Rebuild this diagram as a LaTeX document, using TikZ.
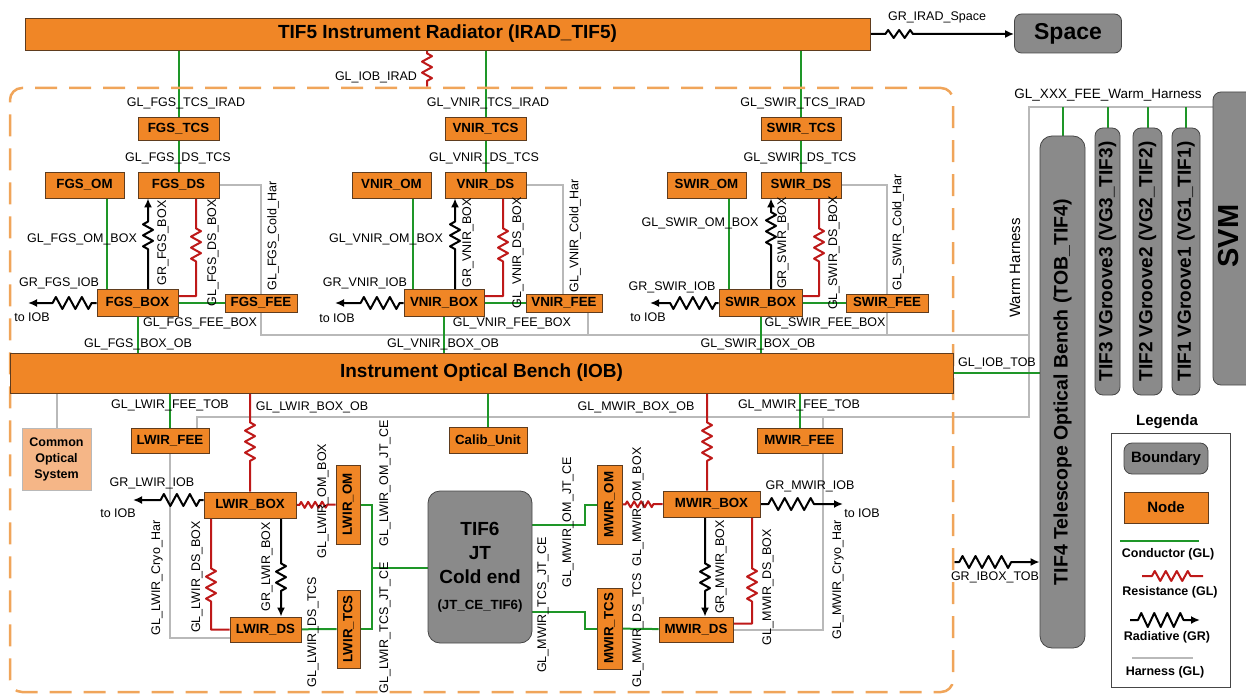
\documentclass[tikz,border=0pt]{standalone}
\usepackage{fontspec}
\setmainfont{Liberation Sans}
\usetikzlibrary{arrows.meta,decorations.pathmorphing,backgrounds}
\definecolor{nodeorange}{RGB}{240,134,38}
\definecolor{nodeborder}{RGB}{95,60,30}
\definecolor{bndgray}{RGB}{138,138,138}
\definecolor{bndborder}{RGB}{70,70,70}
\definecolor{condgreen}{RGB}{30,150,40}
\definecolor{resred}{RGB}{190,25,25}
\definecolor{harngray}{RGB}{185,185,185}
\definecolor{iboxorange}{RGB}{240,165,90}
\definecolor{cosfill}{RGB}{245,182,135}
\tikzset{
  sz/.style 2 args={minimum width=#1pt, minimum height=#2pt},
  nd/.style={draw=nodeborder, line width=0.8pt, fill=nodeorange, inner sep=0pt, font=\bfseries\fontsize{13.3}{15}\selectfont},
  bnd/.style={draw=bndborder, line width=0.8pt, fill=bndgray, rounded corners=8pt, inner sep=0pt, font=\bfseries\fontsize{19}{22}\selectfont},
  ibox/.style={draw=iboxorange, line width=2.5pt, dash pattern=on 22pt off 12pt, rounded corners=12pt, inner sep=0pt},
  lbl/.style={inner sep=0pt, font=\fontsize{12.5}{14}\selectfont},
  lgl/.style={inner sep=0pt, font=\bfseries\fontsize{12.5}{14}\selectfont},
  cond/.style={draw=condgreen, line width=2pt},
  harn/.style={draw=harngray, line width=2pt},
  resl/.style={draw=resred, line width=2pt, line join=round, decoration={zigzag, amplitude=5pt, segment length=11pt}},
  res/.style 2 args={resl, decorate, decoration={pre length=#1, post length=#2}},
  rad/.style 2 args={draw=black, line width=2pt, line join=round, -{Latex[length=9pt,width=8pt]}, decorate, decoration={zigzag, amplitude=6pt, segment length=13pt, pre length=#1, post length=#2}}
}
\begin{document}
\begin{tikzpicture}[x=1pt, y=-1pt]
\useasboundingbox (0,0) rectangle (1246,695);
\node[ibox, sz={943}{604}] (IBOX) at (481.5,390) {};

\node[nd, sz={845}{32}, font=\bfseries\fontsize{19}{22}\selectfont] (IRAD) at (447.5,34) {TIF5 Instrument Radiator (IRAD\_TIF5)};
\node[bnd, sz={107}{39}, rounded corners=7pt, font=\bfseries\fontsize{23}{26}\selectfont] (SPACE) at (1068,33.5) {Space};
\node[nd, sz={943}{40}, font=\bfseries\fontsize{19}{22}\selectfont] (IOB) at (481.5,373) {Instrument Optical Bench (IOB)};

\node[nd, sz={81}{23}] (FGStcs) at (178.5,128.5) {FGS\_TCS};
\node[nd, sz={81}{26}] (FGSds) at (178.5,185) {FGS\_DS};
\node[nd, sz={79}{26}] (FGSom) at (84.5,185) {FGS\_OM};
\node[nd, sz={81}{27}] (FGSbox) at (137.5,303) {FGS\_BOX};
\node[nd, sz={72}{18}] (FGSfee) at (261,303) {FGS\_FEE};

\node[nd, sz={81}{23}] (VNIRtcs) at (485.5,128.5) {VNIR\_TCS};
\node[nd, sz={81}{26}] (VNIRds) at (485.5,185) {VNIR\_DS};
\node[nd, sz={79}{26}] (VNIRom) at (391.5,185) {VNIR\_OM};
\node[nd, sz={80}{27}] (VNIRbox) at (444,303) {VNIR\_BOX};
\node[nd, sz={76}{18}] (VNIRfee) at (564,303) {VNIR\_FEE};

\node[nd, sz={80}{23}] (SWIRtcs) at (801,128.5) {SWIR\_TCS};
\node[nd, sz={80}{26}] (SWIRds) at (801,185) {SWIR\_DS};
\node[nd, sz={79}{26}] (SWIRom) at (706.5,185) {SWIR\_OM};
\node[nd, sz={83}{27}] (SWIRbox) at (760.5,303) {SWIR\_BOX};
\node[nd, sz={82}{18}] (SWIRfee) at (887,303) {SWIR\_FEE};

\node[nd, sz={78}{25}] (LWIRfee) at (170,440.5) {LWIR\_FEE};
\node[nd, sz={78}{26}] (CALIB) at (488,440) {Calib\_Unit};
\node[nd, sz={85}{25}] (MWIRfee) at (799.5,440.5) {MWIR\_FEE};
\node[draw=harngray, line width=0.8pt, fill=cosfill, sz={69}{62}, inner sep=0pt, align=center, font=\bfseries\fontsize{12.5}{16}\selectfont] (COS) at (56.5,459) {Common\\Optical\\System};

\node[nd, sz={92}{26}] (LWIRbox) at (250,505) {LWIR\_BOX};
\node[nd, sz={24}{79}] (LWIRom) at (348,504.5) {\rotatebox{90}{LWIR\_OM}};
\node[nd, sz={23}{78}] (LWIRtcs) at (348.5,629) {\rotatebox{90}{LWIR\_TCS}};
\node[nd, sz={71}{25}] (LWIRds) at (265.5,629.5) {LWIR\_DS};
\node[bnd, sz={104}{152}, rounded corners=12pt, align=center, font=\bfseries\fontsize{19}{24}\selectfont] (JT) at (480,567) {TIF6\\JT\\Cold end\\[2pt]{\fontsize{13.3}{15}\selectfont(JT\_CE\_TIF6)}};
\node[nd, sz={25}{79}] (MWIRom) at (609.5,504.5) {\rotatebox{90}{MWIR\_OM}};
\node[nd, sz={25}{81}] (MWIRtcs) at (609.5,628.5) {\rotatebox{90}{MWIR\_TCS}};
\node[nd, sz={97}{26}] (MWIRbox) at (711.5,504) {MWIR\_BOX};
\node[nd, sz={74}{25}] (MWIRds) at (696,629.5) {MWIR\_DS};

\node[bnd, sz={45}{512}, rounded corners=12pt, font=\bfseries\fontsize{19.5}{22}\selectfont] (TOB) at (1062.5,392) {\rotatebox{90}{TIF4 Telescope Optical Bench (TOB\_TIF4)}};
\node[bnd, sz={25}{267}] (VG3) at (1107.5,261.5) {\rotatebox{90}{TIF3 VGroove3 (VG3\_TIF3)}};
\node[bnd, sz={29}{267}] (VG2) at (1147.5,261.5) {\rotatebox{90}{TIF2 VGroove2 (VG2\_TIF2)}};
\node[bnd, sz={28}{267}] (VG1) at (1186,261.5) {\rotatebox{90}{TIF1 VGroove1 (VG1\_TIF1)}};
\begin{scope}
\clip (0,0) rectangle (1246,695);
\node[bnd, sz={50}{293}] (SVM) at (1238,238.5) {};
\end{scope}
\node[inner sep=0pt, font=\bfseries\fontsize{29}{30}\selectfont] (tSVM) at (1228,236) {\rotatebox{90}{SVM}};

\coordinate (whT) at (1029,107);
\coordinate (whA) at (1029,335);
\coordinate (whB) at (1029,417);
\coordinate (FGSiob) at (28,303);
\coordinate (VNIRiob) at (335,303);
\coordinate (SWIRiob) at (650,303);
\coordinate (LWIRiob) at (133,500);
\coordinate (MWIRiob) at (843,504);
\coordinate (LWIRjt) at (372,568);

\begin{scope}[on background layer]
\draw[cond] (IRAD.south -| FGStcs.north) -- (FGStcs.north);
\draw[cond] (IRAD.south -| VNIRtcs.north) -- (VNIRtcs.north);
\draw[cond] (IRAD.south -| SWIRtcs.north) -- (SWIRtcs.north);
\draw[res={3pt}{3pt}] (IRAD.south -| 427,0) -- (IBOX.north -| 427,0);
\draw[rad={15pt}{98pt}, decoration={amplitude=4pt, segment length=11pt}] (IRAD.east) -- (IRAD.east -| SPACE.west);

\draw[cond] (FGStcs) -- (FGSds);
\draw[cond] (FGSom.south -| 107,0) -- (FGSbox.north -| 107,0);
\draw[rad={40pt}{20pt}, decoration={amplitude=5pt, segment length=11pt}] (FGSbox.north -| 148,0) -- (FGSds.south -| 148,0);
\draw[resl] (FGSds.south -| 196,0) -- ++(0,30) decorate {-- ++(0,37)} |- ([yshift=7pt]FGSbox.east);
\draw[cond] (FGSbox) -- (FGSfee);
\draw[rad={5pt}{22pt}] (FGSbox.west) -- (FGSiob);
\draw[harn] (FGSds.east) -| (FGSfee);
\draw[harn] (FGSfee) |- (whA);
\draw[cond] (FGSbox) -- (FGSbox |- IOB.north);

\draw[cond] (VNIRtcs) -- (VNIRds);
\draw[cond] (VNIRom.south -| 413,0) -- (VNIRbox.north -| 413,0);
\draw[rad={40pt}{20pt}, decoration={amplitude=5pt, segment length=11pt}] (VNIRbox.north -| 455,0) -- (VNIRds.south -| 455,0);
\draw[resl] (VNIRds.south -| 503,0) -- ++(0,30) decorate {-- ++(0,37)} |- ([yshift=7pt]VNIRbox.east);
\draw[cond] (VNIRbox) -- (VNIRfee);
\draw[rad={4pt}{25pt}] (VNIRbox.west) -- (VNIRiob);
\draw[harn] (VNIRds.east) -| (VNIRfee.north -| 563,0);
\draw[harn] (VNIRfee.south -| 588,0) -- (whA -| 588,0);
\draw[cond] (VNIRbox) -- (VNIRbox |- IOB.north);

\draw[cond] (SWIRtcs) -- (SWIRds);
\draw[cond] (SWIRom.south -| 729,0) -- (SWIRbox.north -| 729,0);
\draw[rad={44pt}{12pt}, decoration={amplitude=5pt, segment length=11pt}] (SWIRbox.north -| 771,0) -- (SWIRds.south -| 771,0);
\draw[resl] (SWIRds.south -| 819,0) -- ++(0,30) decorate {-- ++(0,38)} |- ([yshift=7pt]SWIRbox.east);
\draw[cond] (SWIRbox) -- (SWIRfee);
\draw[rad={3pt}{20pt}] (SWIRbox.west) -- (SWIRiob);
\draw[harn] (SWIRds.east) -| (SWIRfee) |- (whA);
\draw[cond] (SWIRbox) -- (SWIRbox |- IOB.north);

\draw[harn] (SVM.west |- whT) -- (whT) -- (whB) -| (LWIRfee.north -| 197,0);
\draw[cond] (TOB.north) -- (TOB.north |- whT);
\draw[cond] (VG3.north) -- (VG3.north |- whT);
\draw[cond] (VG2.north) -- (VG2.north |- whT);
\draw[cond] (VG1.north) -- (VG1.north |- whT);
\draw[cond] (IOB.east) -- (IOB.east -| TOB.west);
\draw[rad={5pt}{28pt}] (IBOX.east |- 0,562) -- (TOB.west |- 0,562);

\draw[harn] (IOB.south -| COS.north) -- (COS.north);
\draw[cond] (IOB.south -| LWIRfee.north) -- (LWIRfee.north);
\draw[cond] (IOB.south -| CALIB.north) -- (CALIB.north);
\draw[cond] (IOB.south -| MWIRfee.north) -- (MWIRfee.north);
\draw[res={29pt}{29pt}] (IOB.south -| LWIRbox.north) -- (LWIRbox.north);
\draw[res={29pt}{29pt}] (IOB.south -| 707,0) -- (MWIRbox.north -| 707,0);
\draw[harn] (whB -| 823,0) -- (MWIRfee.north -| 823,0);
\draw[harn] (MWIRfee.south -| 823,0) |- (MWIRds.east);
\draw[harn] (LWIRfee) |- ([yshift=-8pt]LWIRds.west);

\draw[rad={4pt}{22pt}] ([yshift=5pt]LWIRbox.west) -- (LWIRiob);
\draw[res={3pt}{6pt}, decoration={amplitude=3pt, segment length=7pt}] (LWIRbox.east) -- (LWIRom.west);
\draw[resl] (LWIRbox.south -| 211,0) -- ++(0,50) decorate {-- ++(0,37)} |- (LWIRds.west);
\draw[rad={45pt}{22pt}, decoration={amplitude=5pt, segment length=11pt}] (LWIRbox.south -| 281,0) -- (LWIRds.north -| 281,0);
\draw[cond] (LWIRds) -- (LWIRtcs);
\draw[cond] (LWIRom.east) -| (LWIRjt) |- (LWIRtcs.east);
\draw[cond] (LWIRjt) -- (LWIRjt -| JT.west);

\draw[cond] ([yshift=42pt]JT.east) -| ([xshift=-12pt]MWIRom.west) -- (MWIRom.west);
\draw[cond] ([yshift=-45pt]JT.east) -| ([xshift=-12pt]MWIRtcs.west) -- (MWIRtcs.west);
\draw[cond] (MWIRtcs) -- (MWIRds);
\draw[res={3pt}{8pt}, decoration={amplitude=3pt, segment length=7pt}] (MWIRom.east) -- (MWIRbox.west);
\draw[rad={46pt}{22pt}, decoration={amplitude=5pt, segment length=11pt}] (MWIRbox.south -| 705,0) -- (MWIRds.north -| 705,0);
\draw[resl] (MWIRbox.south -| 752,0) -- ++(0,51) decorate {-- ++(0,33)} |- ([yshift=6pt]MWIRds.east);
\draw[rad={8pt}{23pt}] (MWIRbox.east) -- (MWIRiob);
\end{scope}

\node[lbl] (tIradSpace) at (937,17) {GR\_IRAD\_Space};
\node[lbl] (tIobIrad) at (376,77) {GL\_IOB\_IRAD};
\node[lbl] (tFGStcs) at (186,103) {GL\_FGS\_TCS\_IRAD};
\node[lbl] (tVNIRtcs) at (488,103) {GL\_VNIR\_TCS\_IRAD};
\node[lbl] (tSWIRtcs) at (803,103) {GL\_SWIR\_TCS\_IRAD};
\node[lbl] (tFGSds) at (178,158) {GL\_FGS\_DS\_TCS};
\node[lbl] (tVNIRds) at (484,158) {GL\_VNIR\_DS\_TCS};
\node[lbl] (tSWIRds) at (800,158) {GL\_SWIR\_DS\_TCS};
\node[lbl] (tFGSom) at (82,239) {GL\_FGS\_OM\_BOX};
\node[lbl] (tVNIRom) at (386,239) {GL\_VNIR\_OM\_BOX};
\node[lbl] (tSWIRom) at (700,223) {GL\_SWIR\_OM\_BOX};
\node[lbl, rotate=90] (tFGSgr) at (163,243) {GR\_FGS\_BOX};
\node[lbl, rotate=90] (tVNIRgr) at (468,243) {GR\_VNIR\_BOX};
\node[lbl, rotate=90] (tSWIRgr) at (783,243) {GR\_SWIR\_BOX};
\node[lbl, rotate=90] (tFGSdsb) at (213,253) {GL\_FGS\_DS\_BOX};
\node[lbl, rotate=90] (tVNIRdsb) at (518,253) {GL\_VNIR\_DS\_BOX};
\node[lbl, rotate=90] (tSWIRdsb) at (834,253) {GL\_SWIR\_DS\_BOX};
\node[lbl, rotate=90] (tFGSch) at (273,236) {GL\_FGS\_Cold\_Har};
\node[lbl, rotate=90] (tVNIRch) at (575,236) {GL\_VNIR\_Cold\_Har};
\node[lbl, rotate=90] (tSWIRch) at (898,232) {GL\_SWIR\_Cold\_Har};
\node[lbl] (tFGSiob) at (59,283) {GR\_FGS\_IOB};
\node[lbl] (tVNIRiob) at (365,283) {GR\_VNIR\_IOB};
\node[lbl] (tSWIRiob) at (672,287) {GR\_SWIR\_IOB};
\node[lbl] (xFGSiob) at (32,317) {to IOB};
\node[lbl] (xVNIRiob) at (337,318) {to IOB};
\node[lbl] (xSWIRiob) at (648,317) {to IOB};
\node[lbl] (tFGSfee) at (200,323) {GL\_FGS\_FEE\_BOX};
\node[lbl] (tVNIRfee) at (512,323) {GL\_VNIR\_FEE\_BOX};
\node[lbl] (tSWIRfee) at (825,323) {GL\_SWIR\_FEE\_BOX};
\node[lbl] (tFGSob) at (138,344) {GL\_FGS\_BOX\_OB};
\node[lbl] (tVNIRob) at (443,344) {GL\_VNIR\_BOX\_OB};
\node[lbl] (tSWIRob) at (758,344) {GL\_SWIR\_BOX\_OB};
\node[lbl, rotate=90, font=\fontsize{15}{17}\selectfont] (tWarm) at (1015,268) {Warm Harness};
\node[lbl, font=\fontsize{13.5}{15}\selectfont] (tWarmHar) at (1108,95) {GL\_XXX\_FEE\_Warm\_Harness};
\node[lbl] (tIobTob) at (997,363) {GL\_IOB\_TOB};
\node[lbl] (tIboxTob) at (995,577) {GR\_IBOX\_TOB};

\node[lbl] (tLWIRfee) at (170,405) {GL\_LWIR\_FEE\_TOB};
\node[lbl] (tLWIRob) at (312,407) {GL\_LWIR\_BOX\_OB};
\node[lbl] (tMWIRob) at (636,407) {GL\_MWIR\_BOX\_OB};
\node[lbl] (tMWIRfee) at (799,405) {GL\_MWIR\_FEE\_TOB};
\node[lbl] (tLWIRiob) at (152,483) {GR\_LWIR\_IOB};
\node[lbl] (xLWIRiob) at (118,513) {to IOB};
\node[lbl] (tMWIRiob) at (810,486) {GR\_MWIR\_IOB};
\node[lbl] (xMWIRiob) at (862,513) {to IOB};
\node[lbl, rotate=90] (tLWIRom) at (323,501) {GL\_LWIR\_OM\_BOX};
\node[lbl, rotate=90] (tLWIRomjt) at (385,483) {GL\_LWIR\_OM\_JT\_CE};
\node[lbl, rotate=90] (tLWIRtcsjt) at (385,628) {GL\_LWIR\_TCS\_JT\_CE};
\node[lbl, rotate=90] (tLWIRcryo) at (157,578) {GL\_LWIR\_Cryo\_Har};
\node[lbl, rotate=90] (tLWIRdsb) at (197,577) {GL\_LWIR\_DS\_BOX};
\node[lbl, rotate=90] (tLWIRgr) at (267,567) {GR\_LWIR\_BOX};
\node[lbl, rotate=90] (tLWIRdst) at (313,632) {GL\_LWIR\_DS\_TCS};
\node[lbl, rotate=90] (tMWIRomjt) at (568,522) {GL\_MWIR\_OM\_JT\_CE};
\node[lbl, rotate=90] (tMWIRtcsjt) at (543,605) {GL\_MWIR\_TCS\_JT\_CE};
\node[lbl, rotate=90] (tMWIRom) at (638,507) {GL\_MWIR\_OM\_BOX};
\node[lbl, rotate=90] (tMWIRdst) at (638,630) {GL\_MWIR\_DS\_TCS};
\node[lbl, rotate=90] (tMWIRgr) at (721,567) {GR\_MWIR\_BOX};
\node[lbl, rotate=90] (tMWIRdsb) at (768,587) {GL\_MWIR\_DS\_BOX};
\node[lbl, rotate=90] (tMWIRcryo) at (838,580) {GL\_MWIR\_Cryo\_Har};

\node[lgl, font=\bfseries\fontsize{15}{17}\selectfont] (LEGt) at (1167,422) {Legenda};
\node[draw=bndborder, line width=1pt, sz={119}{254}] (LEG) at (1170.5,560) {};
\node[bnd, sz={84}{31}, font=\bfseries\fontsize{15}{17}\selectfont] (LEGbnd) at (1166,458.5) {Boundary};
\node[nd, sz={84}{31}, font=\bfseries\fontsize{15}{17}\selectfont] (LEGnd) at (1166,507.5) {Node};
\draw[cond] (1120,541) -- (1199,541);
\node[lgl] (LEGc) at (1168,554) {Conductor (GL)};
\draw[res={10pt}{12pt}] (1142,576) -- (1203,576);
\node[lgl] (LEGr) at (1170,592) {Resistance (GL)};
\draw[rad={8pt}{14pt}, decoration={amplitude=7pt}] (1130,620) -- (1200,620);
\node[lgl] (LEGrad) at (1167,637) {Radiative (GR)};
\draw[harn] (1132,658) -- (1193,658);
\node[lgl] (LEGh) at (1165,672) {Harness (GL)};
\end{tikzpicture}
\end{document}
